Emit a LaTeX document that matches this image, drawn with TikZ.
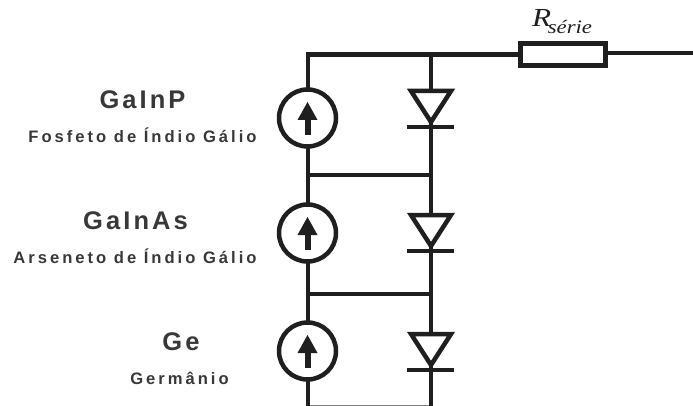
\documentclass[tikz,border=0pt]{standalone}
\usepackage{fontspec}
\setmainfont{Liberation Sans}
\newfontfamily\bigfont[LetterSpace=12]{Liberation Sans Bold}
\newfontfamily\smallfont[LetterSpace=18]{Liberation Sans Bold}
\newfontfamily\serifit[FakeStretch=1.2]{Liberation Serif Italic}
\definecolor{ink}{gray}{0.12}
\definecolor{txt}{gray}{0.22}
\tikzset{
  wire/.style={draw=ink,line width=4.6pt,line cap=butt},
  edge line/.style={draw=black!50,line width=1.5pt},
  source/.style={circle,draw=ink,line width=4.5pt,fill=white,minimum size=57pt,inner sep=0pt},
  bar/.style={draw=ink,line width=4.5pt},
  tri/.style={draw=ink,line width=4.5pt,fill=white,miter limit=10,line join=miter},
  shaft/.style={draw=ink,line width=6pt},
  head/.style={fill=ink,draw=none},
  resistor/.style={rectangle,draw=ink,line width=5pt,fill=white,minimum width=85pt,minimum height=22pt,inner sep=0pt},
  bigtxt/.style={text=txt,font=\fontsize{25.5}{27}\bigfont,inner sep=0pt},
  smalltxt/.style={text=txt,font=\fontsize{16.6}{18}\smallfont,inner sep=0pt},
}
\begin{document}
\begin{tikzpicture}[x=1pt,y=-1pt]
\useasboundingbox (0,0) rectangle (693,406);
% free ends and junctions
\coordinate (tl0) at (305.7,54.5);
\coordinate (tl) at (308,54.5);
\coordinate (tr) at (431,54.5);
\coordinate (endr) at (693,53);
\coordinate (j1l) at (308,175);
\coordinate (j1r) at (431,175);
\coordinate (j2l) at (308,294);
\coordinate (j2r) at (431,294);
\coordinate (bl) at (308,406);
\coordinate (br) at (431,406);
\coordinate (gl) at (308,405.4);
\coordinate (gr) at (431,405.4);
\node[resistor] (rs) at (563,54.5) {};
% wires
\draw[edge line] (gl) -- (gr);
\draw[wire] (tl0) -- (rs.west);
\draw[wire] (rs.east |- endr) -- (endr);
\draw[wire] (tl) -- (bl);
\draw[wire] (tr) -- (br);
\draw[wire] (j1l) -- (j1r);
\draw[wire] (j2l) -- (j2r);
% sources
\node[source] (s1) at (307.5,118) {};
\node[source] (s2) at (307.5,233) {};
\node[source] (s3) at (307.5,351) {};
\foreach \c in {s1,s2,s3}{
  \draw[shaft] (\c.center) ++(0,17) -- ++(0,-17);
  \fill[head] (\c.center) ++(0,-16) -- ++(10,18) -- ++(-20,0) -- cycle;
}
% diodes
\foreach \n/\y in {d1/91,d2/215,d3/334}{
  \coordinate (\n a) at (411,\y);
  \coordinate (\n b) at (451,\y);
  \coordinate (\n c) at (431,\y+31);
  \coordinate (\n l) at (407,\y+36);
  \coordinate (\n r) at (454,\y+36);
  \draw[tri] (\n a) -- (\n b) -- (\n c) -- cycle;
  \draw[bar] (\n l) -- (\n r);
}
% labels
\node[bigtxt] (t1) at (142.5,99.5) {GaInP};
\node[smalltxt] (t2) at (142.5,135.5) {Fosfeto de Índio Gálio};
\node[bigtxt] (t3) at (135.5,221) {GaInAs};
\node[smalltxt] (t4) at (135,256.5) {Arseneto de Índio Gálio};
\node[bigtxt] (t5) at (181,342) {Ge};
\node[smalltxt] (t6) at (179.5,378) {Germânio};
\node[inner sep=0pt,anchor=base west,text=ink] (rl) at (532,27) {\fontsize{26}{28}\serifit R\kern-3.5pt\raisebox{-6.5pt}{\fontsize{19}{21}\serifit série}};
\end{tikzpicture}
\end{document}
